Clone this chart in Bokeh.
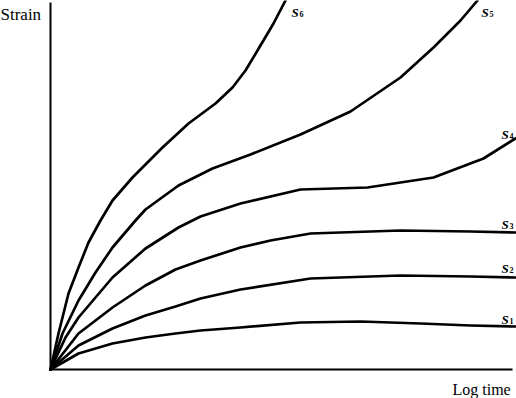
from bokeh.plotting import figure
from bokeh.models import Range1d, Label, LinearAxis, FixedTicker
from bokeh.embed import file_html
from bokeh.resources import INLINE

# Curves (x: log time units, y: strain units)
s1_x = [0, 28, 62, 95, 125, 150, 190, 250, 310, 370, 420, 465]
s1_y = [0, 16, 26, 32, 36, 39, 42, 47, 48, 46, 44, 43]
s2_x = [0, 28, 62, 95, 125, 150, 190, 260, 350, 420, 465]
s2_y = [0, 24, 41, 54, 63, 71, 80, 91, 94, 93, 92]
s3_x = [0, 28, 62, 95, 125, 150, 190, 220, 260, 350, 420, 465]
s3_y = [0, 36, 62, 84, 100, 109, 122, 129, 136, 139, 138, 137]
s4_x = [0, 15, 28, 62, 95, 128, 150, 190, 250, 317, 383, 433, 465]
s4_y = [0, 32, 52, 92, 121, 142, 153, 166, 180, 182, 192, 211, 231]
s5_x = [0, 12, 28, 45, 62, 85, 95, 128, 162, 200, 250, 300, 350, 383, 410, 427]
s5_y = [0, 36, 69, 97, 122, 149, 160, 184, 201, 215, 235, 258, 292, 322, 349, 369]
s6_x = [0, 8, 18, 28, 38, 50, 62, 82, 112, 138, 165, 182, 195, 207, 223, 235]
s6_y = [0, 36, 76, 102, 127, 149, 169, 192, 222, 246, 266, 282, 299, 319, 346, 369]

curve_names = ["1", "2", "3", "4", "5", "6"]
label_x = [451, 451, 451, 451, 431, 241]
label_y = [50, 101, 145, 235, 357, 357]

x_axis_end = 462
y_axis_end = 367

xs = [s1_x, s2_x, s3_x, s4_x, s5_x, s6_x]
ys = [s1_y, s2_y, s3_y, s4_y, s5_y, s6_y]

p = figure(width=516, height=398, output_backend="svg", toolbar_location=None,
           x_range=Range1d(-50, 466), y_range=Range1d(-29, 369),
           x_axis_type=None, y_axis_type=None, min_border=0)
p.grid.visible = False
p.outline_line_color = None
p.background_fill_color = "white"
p.border_fill_color = "white"

xa = LinearAxis(ticker=FixedTicker(ticks=[]), fixed_location=0, bounds=(0, x_axis_end))
ya = LinearAxis(ticker=FixedTicker(ticks=[]), fixed_location=0, bounds=(0, y_axis_end))
for ax in (xa, ya):
    ax.axis_line_width = 2
    ax.axis_line_color = "black"
    ax.major_tick_line_color = None
    ax.minor_tick_line_color = None
    ax.major_tick_out = 0
    ax.major_tick_in = 0
    ax.major_label_standoff = 0
    ax.axis_label_standoff = 0
p.add_layout(xa, "below")
p.add_layout(ya, "left")

for x, y in zip(xs, ys):
    p.line(x, y, line_color="black", line_width=2.7, line_join="round", line_cap="round")

for name, lx, ly in zip(curve_names, label_x, label_y):
    p.add_layout(Label(x=lx, y=ly, text="S", text_font="Liberation Serif",
                       text_font_style="bold italic", text_font_size="13px",
                       text_color="black", text_baseline="alphabetic"))
    p.add_layout(Label(x=lx + 8, y=ly - 1, text=name, text_font="Liberation Serif",
                       text_font_style="bold", text_font_size="8px",
                       text_color="black", text_baseline="alphabetic"))

p.add_layout(Label(x=-50, y=355, text="Strain", text_font="Liberation Serif",
                   text_font_size="17px", text_color="black", text_baseline="alphabetic"))
p.add_layout(Label(x=402, y=-20, text="Log time", text_font="Liberation Serif",
                   text_font_size="16px", text_color="black", text_baseline="alphabetic"))

open("out.html", "w").write(file_html(p, INLINE))
